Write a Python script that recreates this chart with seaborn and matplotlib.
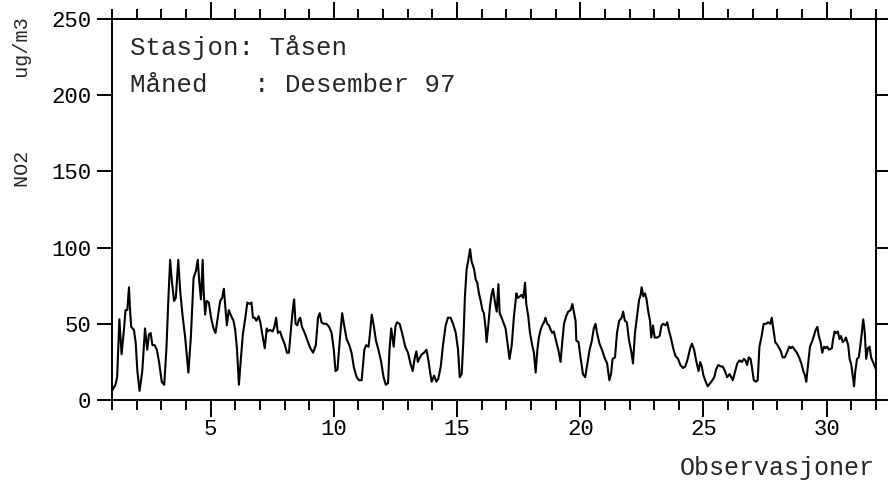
import numpy as np
import pandas as pd
import seaborn as sns
import matplotlib.pyplot as plt
from matplotlib.ticker import MultipleLocator

# NO2 hourly curve, split per week (day of month, ug/m3)
days_w1 = [1.00, 1.14, 1.21, 1.30, 1.39, 1.48, 1.55, 1.62, 1.69, 1.73, 1.78, 1.89, 1.96, 2.03, 2.12,
           2.23, 2.34, 2.43, 2.50, 2.57, 2.64, 2.73, 2.82, 2.91, 3.02, 3.12, 3.21, 3.29, 3.36, 3.43,
           3.52, 3.59, 3.69, 3.77, 3.86, 3.97, 4.10, 4.20, 4.31, 4.41, 4.48, 4.54, 4.61, 4.68, 4.72,
           4.78, 4.84, 4.93, 5.02, 5.12, 5.20, 5.29, 5.39, 5.47, 5.54, 5.59, 5.66, 5.74, 5.84, 5.93,
           6.00, 6.07, 6.15, 6.22, 6.31, 6.42, 6.49, 6.59, 6.66, 6.72, 6.79, 6.86, 6.95, 7.02, 7.10,
           7.20, 7.28]
no2_w1 = [6, 10, 15, 53, 30, 45, 59, 59, 74, 60, 48, 46, 38, 19, 6,
          19, 47, 33, 43, 44, 36, 36, 33, 25, 12, 10, 34, 67, 92, 78,
          65, 67, 92, 71, 56, 41, 18, 41, 80, 85, 92, 78, 66, 92, 71,
          56, 65, 64, 54, 47, 44, 54, 65, 67, 73, 63, 49, 59, 55, 52,
          46, 34, 10, 25, 43, 55, 64, 63, 64, 54, 54, 52, 55, 51, 43,
          34, 47]

days_w2 = [7.32, 7.41, 7.52, 7.59, 7.66, 7.73, 7.82, 7.90, 8.00, 8.10, 8.18, 8.27, 8.34, 8.39, 8.45,
           8.52, 8.59, 8.64, 8.71, 8.82, 8.93, 9.05, 9.16, 9.27, 9.36, 9.43, 9.50, 9.59, 9.70, 9.81,
           9.91, 10.00, 10.07, 10.15, 10.25, 10.34, 10.42, 10.52, 10.63, 10.72, 10.82, 10.93, 11.02,
           11.13, 11.24, 11.31, 11.41, 11.47, 11.54, 11.61, 11.71, 11.81, 11.91, 12.02, 12.11, 12.20,
           12.26, 12.33, 12.43, 12.50, 12.56, 12.67, 12.77, 12.90, 13.01, 13.11, 13.20, 13.29, 13.35,
           13.41]
no2_w2 = [45, 46, 45, 48, 54, 44, 45, 41, 37, 31, 31, 48, 60, 66, 50,
          49, 53, 54, 48, 44, 39, 34, 31, 36, 54, 57, 51, 50, 50, 48,
          44, 33, 19, 20, 41, 57, 49, 40, 36, 31, 21, 15, 13,
          13, 33, 36, 35, 44, 56, 50, 39, 33, 26, 15, 10, 11,
          33, 47, 35, 48, 51, 50, 44, 35, 31, 24, 19, 28, 32,
          25]

days_w3 = [13.46, 13.57, 13.66, 13.76, 13.84, 13.91, 13.97, 14.07, 14.16, 14.24, 14.34, 14.43, 14.54,
           14.63, 14.74, 14.84, 14.95, 15.04, 15.11, 15.19, 15.26, 15.32, 15.39, 15.46, 15.53, 15.59,
           15.69, 15.76, 15.82, 15.89, 15.96, 16.03, 16.09, 16.16, 16.20, 16.27, 16.34, 16.40, 16.46,
           16.54, 16.61, 16.68, 16.73, 16.81, 16.88, 16.97, 17.04, 17.13, 17.22, 17.31, 17.41, 17.47,
           17.55, 17.62, 17.69, 17.76, 17.81, 17.89, 17.96, 18.05, 18.12, 18.19, 18.26, 18.32, 18.39,
           18.46, 18.53, 18.59, 18.66, 18.73, 18.80, 18.86, 18.93, 19.00, 19.11, 19.20, 19.27, 19.34,
           19.43, 19.51, 19.61, 19.68, 19.74, 19.81]
no2_w3 = [27, 30, 31, 33, 26, 18, 12, 16, 12, 14, 22, 36, 49,
          54, 54, 50, 44, 33, 15, 17, 40, 68, 86, 92, 99, 91,
          86, 79, 77, 70, 65, 59, 57, 47, 38, 49, 62, 69, 73,
          64, 58, 76, 57, 54, 51, 47, 38, 27, 36, 55, 70, 67,
          68, 69, 67, 77, 63, 55, 44, 36, 31, 18, 33, 41, 46,
          49, 51, 54, 50, 49, 46, 44, 45, 40, 33, 25, 38, 50,
          55, 58, 59, 63, 58, 52]

days_w4 = [19.84, 19.93, 20.01, 20.11, 20.20, 20.28, 20.38, 20.47, 20.55, 20.62, 20.68, 20.78, 20.88,
           20.98, 21.09, 21.18, 21.25, 21.31, 21.41, 21.49, 21.58, 21.68, 21.74, 21.81, 21.89, 21.98,
           22.08, 22.14, 22.22, 22.32, 22.39, 22.45, 22.49, 22.56, 22.63, 22.69, 22.76, 22.83, 22.88,
           22.95, 23.02, 23.12, 23.22, 23.30, 23.36, 23.46, 23.53, 23.59, 23.69, 23.77, 23.86, 23.97,
           24.06, 24.17, 24.26, 24.36, 24.46, 24.53, 24.62, 24.70, 24.80, 24.87, 24.93, 25.00, 25.09,
           25.17, 25.27, 25.36, 25.44, 25.51, 25.60, 25.70, 25.78, 25.87, 25.96]
no2_w4 = [39, 38, 28, 17, 15, 23, 33, 39, 47, 50, 44, 37, 33,
          28, 24, 13, 17, 27, 28, 44, 52, 54, 58, 52, 51, 39,
          31, 24, 44, 57, 66, 69, 74, 68, 70, 66, 58, 52, 41,
          49, 41, 41, 42, 49, 50, 49, 51, 46, 40, 34, 29, 27,
          23, 21, 22, 27, 34, 37, 33, 26, 19, 25, 22, 16, 12,
          9, 11, 13, 15, 20, 23, 22, 22, 19, 15]

days_w5 = [26.06, 26.19, 26.29, 26.37, 26.46, 26.56, 26.64, 26.70, 26.77, 26.84, 26.91, 26.97, 27.04,
           27.13, 27.20, 27.27, 27.36, 27.44, 27.54, 27.63, 27.71, 27.77, 27.83, 27.91, 28.01, 28.07,
           28.14, 28.21, 28.30, 28.38, 28.48, 28.54, 28.61, 28.70, 28.79, 28.88, 28.97, 29.05, 29.12,
           29.17, 29.24, 29.32, 29.42, 29.48, 29.55, 29.62, 29.68, 29.75, 29.82, 29.89, 29.95, 30.02,
           30.09, 30.21, 30.25, 30.32, 30.38, 30.45, 30.52, 30.58, 30.65, 30.72, 30.78, 30.87, 30.93,
           31.00, 31.07, 31.11, 31.16, 31.23, 31.30, 31.36, 31.43, 31.48, 31.54, 31.60, 31.67, 31.74,
           31.80, 31.90, 32.00]
no2_w5 = [17, 13, 19, 24, 26, 25, 27, 26, 23, 28, 27, 21, 13,
          12, 13, 35, 42, 50, 50, 51, 50, 54, 47, 38, 36, 34,
          32, 28, 28, 31, 35, 34, 35, 33, 31, 28, 24, 19, 16,
          12, 23, 35, 39, 42, 46, 48, 42, 38, 31, 35, 34, 35,
          33, 34, 39, 45, 44, 45, 40, 42, 38, 39, 41, 36, 27,
          23, 14, 9, 19, 27, 28, 35, 45, 53, 45, 27, 34, 35,
          28, 24, 20]

y_ticks = [0, 50, 100, 150, 200, 250]
x_ticks = [5, 10, 15, 20, 25, 30]
station = "Stasjon: Tåsen"
month = "Måned   : Desember 97"
y_title = "NO2      ug/m3"

df = pd.DataFrame({
    "dag": days_w1 + days_w2 + days_w3 + days_w4 + days_w5,
    "no2": no2_w1 + no2_w2 + no2_w3 + no2_w4 + no2_w5,
})

sns.set_style("ticks")
plt.rcParams['font.family'] = ['Liberation Mono', 'DejaVu Sans Mono']

fig = plt.figure(figsize=(8.88, 4.87), dpi=100)
ax = fig.add_axes([0.1261, 0.1786, 0.8604, 0.7823])

sns.lineplot(data=df, x="dag", y="no2", color="black", linewidth=1.5, ax=ax)

ax.set_xlim(1, 32)
ax.set_ylim(0, 250)
ax.set_xticks(x_ticks)
ax.xaxis.set_minor_locator(MultipleLocator(1))
ax.set_yticks(y_ticks)
ax.tick_params(which='both', direction='out', top=True, right=True, width=1.4, colors='black')
ax.tick_params(axis='x', which='major', length=12, labelsize=16, pad=2)
ax.tick_params(axis='x', which='minor', length=7)
ax.tick_params(axis='y', which='major', length=11, labelsize=16, pad=4)
for s in ax.spines.values():
    s.set_linewidth(1.4)
    s.set_color('black')
ax.set_xlabel("")
ax.set_ylabel("")

ax.text(0.024, 0.925, station, transform=ax.transAxes, fontsize=18.5, ha='left', va='center')
ax.text(0.024, 0.826, month, transform=ax.transAxes, fontsize=18.5, ha='left', va='center')

fig.text(875 / 888, 1 - 468 / 487, "Observasjoner", fontsize=18, ha='right', va='center')
fig.text(22 / 888, 1 - 102 / 487, y_title, fontsize=14.5, rotation=90, ha='center', va='center')

fig.savefig("out.png", dpi=100, facecolor='white')
